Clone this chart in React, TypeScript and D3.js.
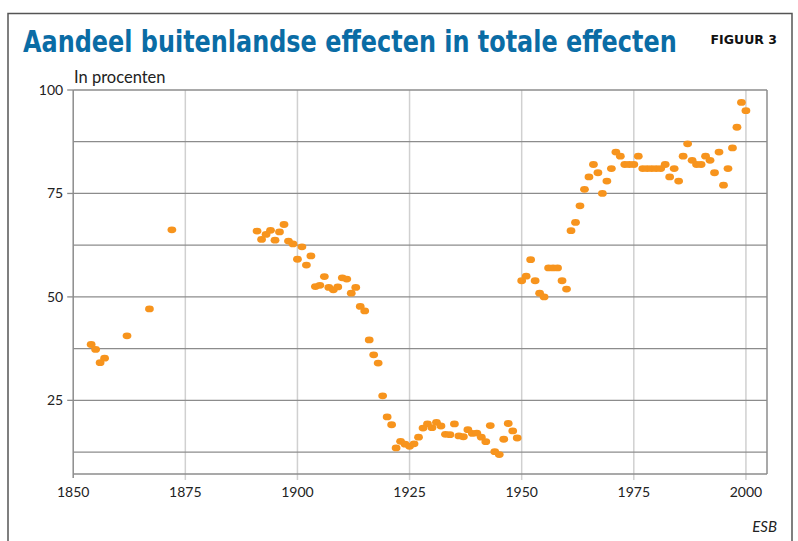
import { useLayoutEffect, useRef, useState } from "react";
import * as d3 from "d3";

// jaar en aandeel (%) van buitenlandse effecten
const years = [
  1854, 1855, 1856, 1857, 1862, 1867, 1872,
  1891, 1892, 1893, 1894, 1895, 1896, 1897, 1898, 1899, 1900,
  1901, 1902, 1903, 1904, 1905, 1906, 1907, 1908, 1909, 1910,
  1911, 1912, 1913, 1914, 1915, 1916, 1917, 1918, 1919, 1920,
  1921, 1922, 1923, 1924, 1925, 1926, 1927, 1928, 1929, 1930,
  1931, 1932, 1933, 1934, 1935, 1936, 1937, 1938, 1939, 1940,
  1941, 1942, 1943, 1944, 1945, 1946, 1947, 1948, 1949, 1950,
  1951, 1952, 1953, 1954, 1955, 1956, 1957, 1958, 1959, 1960,
  1961, 1962, 1963, 1964, 1965, 1966, 1967, 1968, 1969, 1970,
  1971, 1972, 1973, 1974, 1975, 1976, 1977, 1978, 1979, 1980,
  1981, 1982, 1983, 1984, 1985, 1986, 1987, 1988, 1989, 1990,
  1991, 1992, 1993, 1994, 1995, 1996, 1997, 1998, 1999, 2000,
];
const shares = [
  38.5, 37.3, 34.1, 35.2, 40.6, 47.1, 66.2,
  65.9, 63.9, 65.1, 66.1, 63.7, 65.7, 67.5, 63.5, 62.8, 59.1,
  62.1, 57.7, 59.9, 52.5, 52.8, 54.9, 52.3, 51.7, 52.4, 54.6,
  54.3, 50.9, 52.3, 47.7, 46.6, 39.6, 36.0, 34.0, 26.1, 21.0,
  19.1, 13.5, 15.1, 14.4, 13.9, 14.5, 16.1, 18.3, 19.3, 18.4,
  19.7, 18.8, 16.8, 16.7, 19.3, 16.4, 16.2, 17.9, 17.0, 17.1,
  16.1, 15.0, 18.9, 12.6, 11.9, 15.6, 19.4, 17.6, 15.9, 53.9,
  55.0, 59.0, 53.9, 50.9, 50.0, 57, 57, 57, 53.9, 51.9,
  66, 68, 72, 76, 79, 82, 80, 75, 78, 81,
  85, 84, 82, 82, 82, 84, 81, 81, 81, 81,
  81, 82, 79, 81, 78, 84, 87, 83, 82, 82,
  84, 83, 80, 85, 77, 81, 86, 91, 97, 95,
];
const xTicks = [1850, 1875, 1900, 1925, 1950, 1975, 2000];
const yTicks = [25, 50, 75, 100];
const yGrid = [12.5, 25, 37.5, 50, 62.5, 75, 87.5, 100];

const W = 798;
const H = 541;

export default function App() {
  const titleRef = useRef<SVGTextElement>(null);
  const [titleScale, setTitleScale] = useState(1);

  // titel horizontaal samendrukken tot de breedte van het origineel
  useLayoutEffect(() => {
    if (!titleRef.current) return;
    const w = titleRef.current.getComputedTextLength();
    if (w > 0) setTitleScale(654 / w);
  }, []);

  const x = d3.scaleLinear().domain([1850, 2004.7]).range([73.2, 767]);
  const y = d3.scaleLinear().domain([7.2, 100]).range([474, 90]);
  const [x0, x1] = x.range();
  const [y0, y1] = y.range();
  const font = "Lato, 'Open Sans', sans-serif";

  return (
    <svg width={W} height={H} style={{ position: "absolute", left: 0, top: 0, background: "#fff" }}>
      {/* kader */}
      <rect x={8} y={13.5} width={784} height={560} fill="none" stroke="#555" strokeWidth={1.5} />

      <g transform={`translate(23,52) scale(${titleScale},1)`}>
        <text ref={titleRef} x={0} y={0} fill="#0a6ca5" fontFamily="'DejaVu Sans Condensed', sans-serif"
          fontWeight="bold" fontSize={31}>
          Aandeel buitenlandse effecten in totale effecten
        </text>
      </g>
      <text x={777} y={44} textAnchor="end" fill="#111" fontFamily="'DejaVu Sans', sans-serif"
        fontWeight="bold" fontSize={12.5}>
        FIGUUR 3
      </text>
      <text x={74} y={83} fill="#222" fontFamily={font} fontSize={16.5}>In procenten</text>

      {/* verticale rasterlijnen */}
      {xTicks.slice(1).map((t) => (
        <line key={"vx" + t} x1={x(t)} x2={x(t)} y1={y1} y2={y0 + 6} stroke="#d0d0d0" strokeWidth={1.5} />
      ))}
      {/* horizontale rasterlijnen */}
      {yGrid.map((v) => (
        <line key={"hy" + v} x1={x0} x2={x1} y1={y(v)} y2={y(v)} stroke="#8c8c8c" strokeWidth={1.3} />
      ))}
      <line x1={x0} x2={x1} y1={y0} y2={y0} stroke="#8c8c8c" strokeWidth={1.5} />
      <line x1={x0} x2={x0} y1={y1} y2={y0 + 4} stroke="#8c8c8c" strokeWidth={1.5} />
      <line x1={x1} x2={x1} y1={y1} y2={y0} stroke="#8c8c8c" strokeWidth={1.5} />

      {yTicks.map((v) => (
        <g key={"yt" + v}>
          <line x1={x0 - 6} x2={x0} y1={y(v)} y2={y(v)} stroke="#8c8c8c" strokeWidth={1.3} />
          <text x={x0 - 10} y={y(v) + 5} textAnchor="end" fill="#222" fontFamily={font} fontSize={14}>{v}</text>
        </g>
      ))}
      {xTicks.map((t) => (
        <text key={"xt" + t} x={x(t)} y={y0 + 23} textAnchor="middle" fill="#222" fontFamily={font} fontSize={14}>{t}</text>
      ))}

      {years.map((yr, i) => (
        <ellipse key={yr} cx={x(yr)} cy={y(shares[i])} rx={4.4} ry={3.4} fill="#f7941d" />
      ))}

      <text x={777} y={532} textAnchor="end" fill="#222" fontFamily={font} fontStyle="italic" fontSize={15}>ESB</text>
    </svg>
  );
}
